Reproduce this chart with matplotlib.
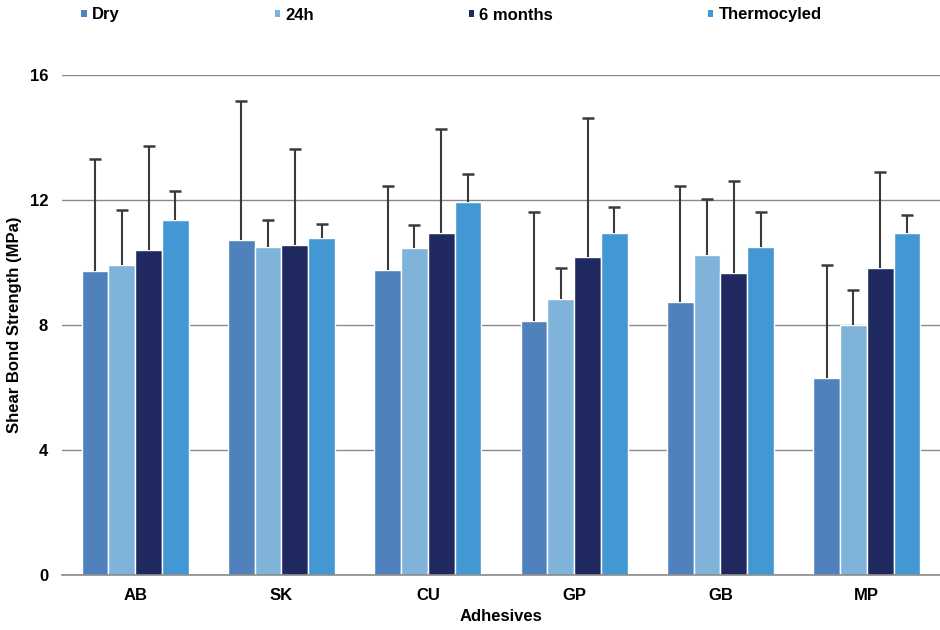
import numpy as np
import matplotlib.pyplot as plt
from matplotlib.patches import Patch

# Shear bond strength (MPa) by adhesive and storage condition
adhesives = ["AB", "SK", "CU", "GP", "GB", "MP"]
conditions = ["Dry", "24h", "6 months", "Thermocyled"]

dry = [9.72, 10.73, 9.76, 8.12, 8.75, 6.31]
h24 = [9.92, 10.51, 10.46, 8.82, 10.25, 8.01]
months6 = [10.39, 10.55, 10.94, 10.18, 9.65, 9.82]
thermo = [11.36, 10.78, 11.94, 10.94, 10.51, 10.94]

# upper error bar ends
dry_top = [13.31, 15.16, 12.46, 11.61, 12.46, 9.91]
h24_top = [11.67, 11.35, 11.20, 9.81, 12.03, 9.12]
months6_top = [13.74, 13.63, 14.27, 14.64, 12.62, 12.89]
thermo_top = [12.30, 11.24, 12.83, 11.77, 11.61, 11.52]

colors = ["#4f81bd", "#80b3da", "#1f2960", "#4398d4"]

plt.rcParams["font.family"] = ["Liberation Sans", "DejaVu Sans"]
plt.rcParams["font.weight"] = "bold"

fig = plt.figure(figsize=(9.4, 6.3), dpi=100)
ax = fig.add_axes([62 / 940, 1 - 575 / 630, 1 - 62 / 940, (575 - 75) / 630])

x = np.arange(len(adhesives))
width = 0.183
series = [(dry, dry_top), (h24, h24_top), (months6, months6_top), (thermo, thermo_top)]

ax.set_axisbelow(True)
ax.yaxis.grid(True, color="#8a8a8a", linewidth=1)

for i, (vals, tops) in enumerate(series):
    pos = x + (i - 1.5) * width
    vals = np.array(vals)
    err = np.array(tops) - vals
    ax.bar(pos, vals, width, color=colors[i], edgecolor="white", linewidth=1, zorder=2)
    eb = ax.errorbar(pos, vals, yerr=[np.zeros_like(err), err], fmt="none",
                     ecolor="#3a3a3a", elinewidth=1.5, capsize=4, capthick=1.8,
                     zorder=3, clip_on=False)
    # only the upper cap is drawn in the original
    eb[1][0].set_visible(False)

ax.set_xlim(-0.5, len(adhesives) - 0.5)
ax.set_ylim(0, 16)
ax.set_yticks([0, 4, 8, 12, 16])
ax.set_xticks(x)
ax.set_xticklabels(adhesives)
ax.tick_params(length=0, labelsize=12)
ax.tick_params(axis="x", pad=9)
ax.tick_params(axis="y", pad=10)
for s in ["top", "right", "left"]:
    ax.spines[s].set_visible(False)
ax.spines["bottom"].set_color("#8a8a8a")
ax.spines["bottom"].set_linewidth(1.2)

ax.set_xlabel("Adhesives", fontsize=12, fontweight="bold", labelpad=5)
fig.text(15 / 940, 1 - 325 / 630, "Shear Bond Strength (MPa)", rotation=90,
         ha="center", va="center", fontsize=12, fontweight="bold")

handles = [Patch(facecolor=c, edgecolor="none") for c in colors]
fig.legend(handles, conditions, loc="center left",
           bbox_to_anchor=(73 / 940, 1 - 15 / 630), ncol=4, frameon=False,
           handlelength=0.33, handleheight=0.33, handletextpad=0.3,
           columnspacing=9.3, borderpad=0, prop={"size": 12, "weight": "bold"})

fig.savefig("out.png", dpi=100)
